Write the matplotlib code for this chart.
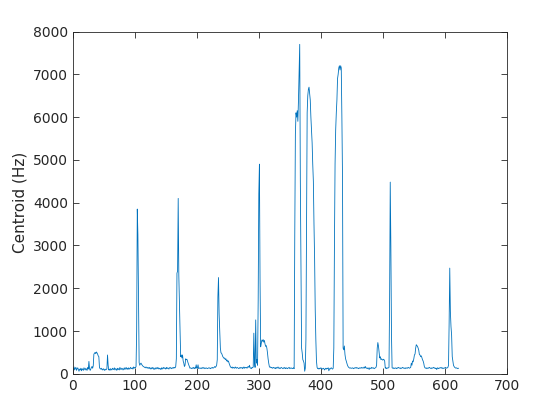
import numpy as np
import matplotlib
matplotlib.use("Agg")
import matplotlib.pyplot as plt

# Spectral centroid per frame (Hz)
seg_start = [140, 110, 160, 90, 130, 150, 80, 120, 140, 100, 60, 110, 90, 130, 70, 120, 100, 80, 140, 110,
             90, 130, 100, 80, 150, 110, 290, 120, 80, 110, 150, 170, 130, 190, 460, 480, 500, 470, 510, 490,
             460, 420, 400, 150, 120, 110, 130, 100, 90, 120, 100, 80, 110, 90, 100, 120, 440, 200, 90, 110,
             80, 120, 100, 90, 130, 110, 100, 140, 90, 120, 110, 80, 130, 100, 120, 90, 150, 110, 100, 130,
             120, 90, 110, 140, 100, 120, 150, 110, 130, 100, 140, 120, 110, 150, 130, 120, 140, 110, 160, 130]
seg_spike1 = [150, 140, 170, 1000, 3850, 3250, 1800, 260, 200, 230, 250, 220, 200, 180, 170, 160, 150, 140, 160, 150,
              130, 150, 140, 120, 150, 130, 110, 140, 120, 150, 130, 100, 120, 140, 110, 130, 150, 120, 140, 110,
              130, 120, 100, 140, 110, 130, 150, 120, 140, 130, 110, 150, 120, 140, 130, 110, 140, 150, 130, 120]
seg_spike2 = [140, 130, 150, 130, 150, 140, 170, 350, 2350, 2400, 4100, 2300, 1600, 1000, 400, 440, 370, 440, 300, 250,
              170, 200, 350, 330, 340, 300, 250, 210, 170, 130, 140, 130, 120, 140, 130, 150, 120, 140, 130, 210,
              130, 140, 210, 120, 130, 140, 130, 120, 140, 130, 150, 130, 140, 120, 130, 140, 130, 120, 130, 140,
              130, 140, 120, 130, 140, 150, 130, 140, 150, 170]
seg_spike3 = [150, 170, 200, 330, 1800, 2250, 1400, 1000, 600, 490,
              480, 440, 400, 380, 360, 370, 330, 350, 300, 320, 280, 300, 250, 210, 170, 150, 140, 160, 130, 150,
              140, 130, 160, 140, 130, 150, 140, 130, 120, 140, 150, 130, 140, 150, 120, 140, 160, 130, 150, 140,
              150, 130, 160, 170, 150, 200, 140, 130, 120, 150, 140, 160, 950, 290, 150, 1260, 250, 330, 200, 1720,
              4200, 4900, 2200, 630, 720, 790, 760, 800, 740, 780, 700, 640, 660, 600, 490, 350, 250, 170, 150, 160,
              140, 150, 130, 140, 150, 130, 140, 120, 150, 130, 140, 160, 130, 140, 120, 130, 150, 140, 130, 120,
              140, 130, 150, 120, 130, 140, 120, 130, 140, 150, 120, 130, 140, 130, 120, 130, 140, 120]
seg_burst1 = [3200, 5600, 6100, 6000, 6150, 5900, 6400, 7000, 7700, 4500, 2700, 600, 490, 330, 300, 250, 60, 130]
seg_burst2 = [800, 3500, 6100, 6500, 6650, 6700, 6550, 6400, 6000, 5700, 5400, 4900, 4500, 3500, 2700, 1500, 800, 300, 150,
              120, 130, 110, 130, 120, 140, 130, 120, 110, 130, 120, 90, 110, 130, 110, 130, 120, 140, 70, 120,
              110, 130, 140, 120, 110]
seg_burst3 = [130, 600, 3000, 4900, 5700, 6100, 6400, 6900, 7000, 7150, 7200, 7100, 7200, 7150, 6000, 4600, 600, 560,
              650, 450, 350, 300, 250, 200, 170, 150, 140, 130, 140, 130]
seg_mid = [130, 140, 130, 120, 140, 130, 140, 150, 130, 140, 130, 120, 140, 130, 140, 130, 150, 140, 130, 140,
           160, 130, 170, 140, 130, 120, 140, 130, 100, 140, 130, 120, 150, 140, 130, 140, 120, 130, 140, 150,
           200, 600, 730, 650, 500, 370, 400, 330, 350, 330, 320, 340, 330, 300, 130, 140, 120, 140, 130, 140,
           150, 1770, 4480, 3000, 910, 140, 130, 140, 120, 130]
seg_end = [140, 130, 120, 140, 130, 150, 140, 130, 140, 120, 130, 140, 150, 130, 140, 130, 120, 140, 130, 140,
           130, 150, 140, 130, 140, 150, 250, 200, 300, 280,
           350, 440, 460, 600, 680, 660, 640, 600, 550, 450, 440, 400, 420, 380, 330, 300, 250, 170, 140, 130,
           140, 120, 130, 140, 130, 150, 140, 130, 120, 140, 130, 140, 150, 130, 140, 120, 130, 100, 140, 130,
           120, 140, 130, 140, 150, 130, 140, 120, 130, 140, 130, 150, 140, 130, 140, 150,
           200, 1200, 2470, 1450, 1100, 900, 400, 300, 200, 170, 150, 140, 130, 140, 130, 120, 130]

centroid = np.array(seg_start + seg_spike1 + seg_spike2 + seg_spike3 + seg_burst1
                    + seg_burst2 + seg_burst3 + seg_mid + seg_end, dtype=float)
frames = np.arange(len(centroid))

xticks = [0, 100, 200, 300, 400, 500, 600, 700]
yticks = [0, 1000, 2000, 3000, 4000, 5000, 6000, 7000, 8000]

fig = plt.figure(figsize=(5.6, 4.2), dpi=100)
ax = fig.add_axes([0.13, 0.11, 0.775, 0.815])
ax.plot(frames, centroid, color="#0072BD", linewidth=0.6)

ax.set_xlim(0, 700)
ax.set_ylim(0, 8000)
ax.set_xticks(xticks)
ax.set_yticks(yticks)
ax.set_ylabel("Centroid (Hz)", fontsize=11, color="#262626")
ax.tick_params(direction="in", length=4, width=0.6, colors="#262626",
               labelsize=10, top=True, right=True)
for spine in ax.spines.values():
    spine.set_color("#262626")
    spine.set_linewidth(0.6)

fig.savefig("out.png", dpi=100)
